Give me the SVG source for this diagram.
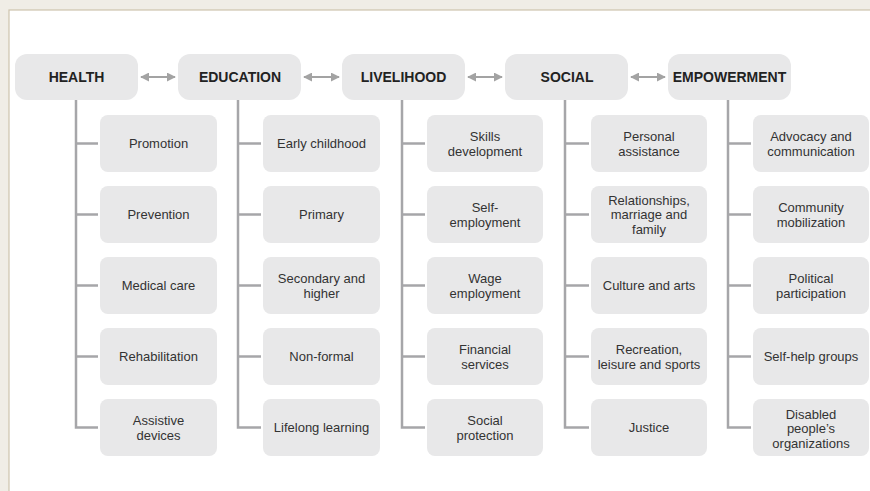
<svg xmlns="http://www.w3.org/2000/svg" width="870" height="491" viewBox="0 0 870 491">
  <style>
    .top rect { fill: #e8e8e9; }
    .top text { font-family: "Liberation Sans", Arial, sans-serif; font-size: 14px; font-weight: bold; fill: #222; text-anchor: middle; }
    .item rect { fill: #e8e8e9; }
    .item text { font-family: "Liberation Sans", Arial, sans-serif; font-size: 13px; fill: #333; text-anchor: middle; }
    .branch { fill: none; stroke: #a6a6a9; stroke-width: 2.5; }
    .link { stroke: #a3a3a3; stroke-width: 2; marker-start: url(#head); marker-end: url(#head); }
  </style>
  <defs>
    <marker id="head" viewBox="0 0 10 10" refX="9" refY="5" markerWidth="4.5" markerHeight="4.5" orient="auto-start-reverse">
      <path d="M0,0 L10,5 L0,10 Z" fill="#a3a3a3"/>
    </marker>
  </defs>

  <!-- page background and panel -->
  <rect x="0" y="0" width="870" height="491" fill="#f0ede6"/>
  <rect x="9" y="10" width="870" height="490" fill="#ffffff" stroke="#cdc3ad" stroke-width="1.2"/>

  <!-- connectors -->
  <g id="connectors">
    <line class="link" x1="141" y1="77" x2="175" y2="77"/>
    <line class="link" x1="304" y1="77" x2="339" y2="77"/>
    <line class="link" x1="468" y1="77" x2="502" y2="77"/>
    <line class="link" x1="631" y1="77" x2="665" y2="77"/>

    <path class="branch" d="M76,100 V427.5 H98 M76,143.5 H98 M76,214.5 H98 M76,285.5 H98 M76,356.5 H98"/>
    <path class="branch" d="M238,100 V427.5 H261 M238,143.5 H261 M238,214.5 H261 M238,285.5 H261 M238,356.5 H261"/>
    <path class="branch" d="M402,100 V427.5 H425 M402,143.5 H425 M402,214.5 H425 M402,285.5 H425 M402,356.5 H425"/>
    <path class="branch" d="M565,100 V427.5 H589 M565,143.5 H589 M565,214.5 H589 M565,285.5 H589 M565,356.5 H589"/>
    <path class="branch" d="M728,100 V427.5 H751 M728,143.5 H751 M728,214.5 H751 M728,285.5 H751 M728,356.5 H751"/>
  </g>

  <!-- domain headers -->
  <g id="health" class="top"><rect x="15" y="54" width="123" height="46" rx="12"/><text x="76.5" y="82">HEALTH</text></g>
  <g id="education" class="top"><rect x="178" y="54" width="123" height="46" rx="12"/><text x="240" y="82">EDUCATION</text></g>
  <g id="livelihood" class="top"><rect x="342" y="54" width="123" height="46" rx="12"/><text x="403.5" y="82">LIVELIHOOD</text></g>
  <g id="social" class="top"><rect x="505" y="54" width="123" height="46" rx="12"/><text x="567" y="82">SOCIAL</text></g>
  <g id="empowerment" class="top"><rect x="668" y="54" width="123" height="46" rx="12"/><text x="729.5" y="82">EMPOWERMENT</text></g>

  <!-- health components -->
  <g id="health-promotion" class="item"><rect x="100" y="115" width="117" height="57" rx="8"/><text x="158.5" y="148">Promotion</text></g>
  <g id="health-prevention" class="item"><rect x="100" y="186" width="117" height="57" rx="8"/><text x="158.5" y="219">Prevention</text></g>
  <g id="health-medical" class="item"><rect x="100" y="257" width="117" height="57" rx="8"/><text x="158.5" y="290">Medical care</text></g>
  <g id="health-rehab" class="item"><rect x="100" y="328" width="117" height="57" rx="8"/><text x="158.5" y="361">Rehabilitation</text></g>
  <g id="health-assistive" class="item"><rect x="100" y="399" width="117" height="57" rx="8"/><text x="158.5" y="424.5">Assistive</text><text x="158.5" y="439.5">devices</text></g>

  <!-- education components -->
  <g id="edu-early" class="item"><rect x="263" y="115" width="117" height="57" rx="8"/><text x="321.5" y="148">Early childhood</text></g>
  <g id="edu-primary" class="item"><rect x="263" y="186" width="117" height="57" rx="8"/><text x="321.5" y="219">Primary</text></g>
  <g id="edu-secondary" class="item"><rect x="263" y="257" width="117" height="57" rx="8"/><text x="321.5" y="282.5">Secondary and</text><text x="321.5" y="297.5">higher</text></g>
  <g id="edu-nonformal" class="item"><rect x="263" y="328" width="117" height="57" rx="8"/><text x="321.5" y="361">Non-formal</text></g>
  <g id="edu-lifelong" class="item"><rect x="263" y="399" width="117" height="57" rx="8"/><text x="321.5" y="432">Lifelong learning</text></g>

  <!-- livelihood components -->
  <g id="liv-skills" class="item"><rect x="427" y="115" width="116" height="57" rx="8"/><text x="485" y="140.5">Skills</text><text x="485" y="155.5">development</text></g>
  <g id="liv-self" class="item"><rect x="427" y="186" width="116" height="57" rx="8"/><text x="485" y="211.5">Self-</text><text x="485" y="226.5">employment</text></g>
  <g id="liv-wage" class="item"><rect x="427" y="257" width="116" height="57" rx="8"/><text x="485" y="282.5">Wage</text><text x="485" y="297.5">employment</text></g>
  <g id="liv-financial" class="item"><rect x="427" y="328" width="116" height="57" rx="8"/><text x="485" y="353.5">Financial</text><text x="485" y="368.5">services</text></g>
  <g id="liv-protection" class="item"><rect x="427" y="399" width="116" height="57" rx="8"/><text x="485" y="424.5">Social</text><text x="485" y="439.5">protection</text></g>

  <!-- social components -->
  <g id="soc-personal" class="item"><rect x="591" y="115" width="116" height="57" rx="8"/><text x="649" y="140.5">Personal</text><text x="649" y="155.5">assistance</text></g>
  <g id="soc-relationships" class="item"><rect x="591" y="186" width="116" height="57" rx="8"/><text x="649" y="204.5">Relationships,</text><text x="649" y="219">marriage and</text><text x="649" y="233.5">family</text></g>
  <g id="soc-culture" class="item"><rect x="591" y="257" width="116" height="57" rx="8"/><text x="649" y="290">Culture and arts</text></g>
  <g id="soc-recreation" class="item"><rect x="591" y="328" width="116" height="57" rx="8"/><text x="649" y="353.5">Recreation,</text><text x="649" y="368.5">leisure and sports</text></g>
  <g id="soc-justice" class="item"><rect x="591" y="399" width="116" height="57" rx="8"/><text x="649" y="432">Justice</text></g>

  <!-- empowerment components -->
  <g id="emp-advocacy" class="item"><rect x="753" y="115" width="116" height="57" rx="8"/><text x="811" y="140.5">Advocacy and</text><text x="811" y="155.5">communication</text></g>
  <g id="emp-community" class="item"><rect x="753" y="186" width="116" height="57" rx="8"/><text x="811" y="211.5">Community</text><text x="811" y="226.5">mobilization</text></g>
  <g id="emp-political" class="item"><rect x="753" y="257" width="116" height="57" rx="8"/><text x="811" y="282.5">Political</text><text x="811" y="297.5">participation</text></g>
  <g id="emp-selfhelp" class="item"><rect x="753" y="328" width="116" height="57" rx="8"/><text x="811" y="361">Self-help groups</text></g>
  <g id="emp-dpo" class="item"><rect x="753" y="399" width="116" height="57" rx="8"/><text x="811" y="418.5">Disabled</text><text x="811" y="433">people’s</text><text x="811" y="447.5">organizations</text></g>
</svg>
